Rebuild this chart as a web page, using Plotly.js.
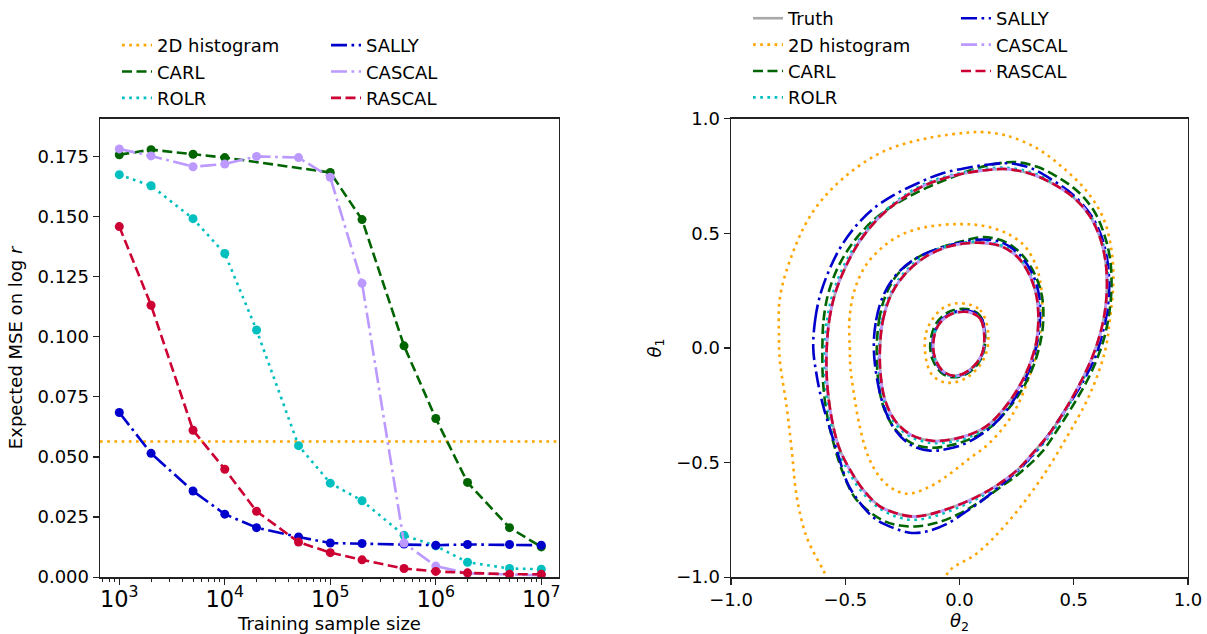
<!DOCTYPE html>
<html><head><meta charset="utf-8">
<script src="https://cdn.plot.ly/plotly-3.0.1.min.js"></script>
<style>html,body{margin:0;padding:0;background:#fff}#chart{width:1207px;height:634px}</style>
</head><body><div id="chart"></div>
<script>
// ---------- Left panel data ----------
const SIZES = [1e3, 2e3, 5e3, 1e4, 2e4, 5e4, 1e5, 2e5, 5e5, 1e6, 2e6, 5e6, 1e7];
const CARL_SIZES = [1e3, 2e3, 5e3, 1e4, 1e5, 2e5, 5e5, 1e6, 2e6, 5e6, 1e7];
const CARL_MSE   = [0.1757, 0.1778, 0.1759, 0.1745, 0.1683, 0.1487, 0.0962, 0.0660, 0.0394, 0.0206, 0.0126];
const ROLR_MSE   = [0.1674, 0.1628, 0.1491, 0.1346, 0.1028, 0.0547, 0.0391, 0.0318, 0.0174, 0.0130, 0.0062, 0.0036, 0.0033];
const SALLY_MSE  = [0.0685, 0.0515, 0.0358, 0.0262, 0.0206, 0.0167, 0.0142, 0.0140, 0.0138, 0.0133, 0.0136, 0.0136, 0.0133];
const CASCAL_MSE = [0.1781, 0.1752, 0.1707, 0.1718, 0.1750, 0.1745, 0.1663, 0.1222, 0.0142, 0.0046, 0.0016, 0.0010, 0.0008];
const RASCAL_MSE = [0.1458, 0.1131, 0.0611, 0.0449, 0.0274, 0.0146, 0.0102, 0.0072, 0.0036, 0.0024, 0.0018, 0.0012, 0.0012];
const HIST_MSE = 0.0564;

// ---------- Right panel data: contours as [theta2, theta1] ----------
const TRUTH_OUTER = [[-0.581,0.000],[-0.570,0.120],[-0.545,0.235],[-0.500,0.350],[-0.440,0.460],[-0.360,0.560],[-0.260,0.645],[-0.150,0.710],[-0.030,0.750],[0.090,0.772],[0.200,0.780],[0.310,0.760],[0.410,0.715],[0.500,0.655],[0.570,0.575],[0.615,0.480],[0.640,0.370],[0.645,0.260],[0.635,0.150],[0.615,0.060],[0.585,-0.030],[0.540,-0.130],[0.480,-0.240],[0.400,-0.365],[0.320,-0.460],[0.250,-0.535],[0.170,-0.595],[0.100,-0.637],[0.020,-0.675],[-0.060,-0.705],[-0.140,-0.728],[-0.210,-0.735],[-0.280,-0.720],[-0.350,-0.690],[-0.420,-0.620],[-0.480,-0.530],[-0.525,-0.440],[-0.555,-0.330],[-0.575,-0.200],[-0.582,-0.100]];
const TRUTH_MID = [[-0.348,0.000],[-0.335,0.120],[-0.300,0.230],[-0.240,0.320],[-0.160,0.390],[-0.070,0.435],[0.020,0.455],[0.104,0.458],[0.190,0.440],[0.260,0.390],[0.310,0.310],[0.338,0.220],[0.345,0.120],[0.335,0.020],[0.300,-0.090],[0.250,-0.187],[0.190,-0.270],[0.120,-0.340],[0.040,-0.380],[-0.040,-0.400],[-0.120,-0.405],[-0.210,-0.380],[-0.280,-0.320],[-0.325,-0.230],[-0.345,-0.120]];
const TRUTH_INNER = [[0.046,0.155],[0.090,0.128],[0.108,0.060],[0.097,-0.030],[0.045,-0.095],[-0.020,-0.122],[-0.070,-0.103],[-0.105,-0.050],[-0.115,0.020],[-0.092,0.100],[-0.035,0.148]];

const HIST_OUTER = [[-0.560,-1.040],[-0.596,-0.970],[-0.669,-0.825],[-0.712,-0.651],[-0.734,-0.448],[-0.756,-0.260],[-0.786,-0.057],[-0.790,0.050],[-0.786,0.219],[-0.727,0.422],[-0.640,0.596],[-0.508,0.741],[-0.333,0.857],[-0.144,0.914],[0.060,0.941],[0.104,0.941],[0.206,0.926],[0.338,0.871],[0.455,0.784],[0.557,0.683],[0.629,0.567],[0.666,0.422],[0.673,0.277],[0.659,0.132],[0.637,-0.013],[0.571,-0.201],[0.469,-0.390],[0.352,-0.578],[0.206,-0.767],[0.075,-0.897],[-0.042,-0.970],[-0.080,-1.040]];
const HIST_MID = [[-0.480,0.000],[-0.482,0.120],[-0.460,0.250],[-0.410,0.360],[-0.330,0.445],[-0.240,0.500],[-0.130,0.530],[0.000,0.540],[0.100,0.533],[0.200,0.503],[0.280,0.450],[0.330,0.370],[0.355,0.280],[0.362,0.180],[0.355,0.080],[0.335,-0.030],[0.300,-0.140],[0.250,-0.259],[0.190,-0.350],[0.120,-0.425],[0.040,-0.485],[-0.040,-0.548],[-0.130,-0.605],[-0.230,-0.636],[-0.320,-0.595],[-0.390,-0.495],[-0.435,-0.350],[-0.465,-0.180],[-0.478,-0.080]];
const HIST_INNER = [[0.000,0.195],[0.090,0.165],[0.126,0.060],[0.108,-0.045],[0.035,-0.128],[-0.056,-0.152],[-0.122,-0.115],[-0.152,0.000],[-0.138,0.090],[-0.075,0.172]];

const CARL_OUTER = [[-0.600,0.000],[-0.595,0.120],[-0.575,0.235],[-0.535,0.345],[-0.480,0.440],[-0.410,0.525],[-0.330,0.595],[-0.240,0.650],[-0.140,0.700],[-0.030,0.745],[0.080,0.785],[0.170,0.805],[0.250,0.810],[0.340,0.790],[0.430,0.745],[0.520,0.680],[0.590,0.595],[0.635,0.490],[0.660,0.380],[0.665,0.260],[0.655,0.150],[0.635,0.050],[0.605,-0.040],[0.560,-0.140],[0.500,-0.245],[0.430,-0.355],[0.360,-0.455],[0.270,-0.540],[0.180,-0.607],[0.090,-0.670],[0.000,-0.723],[-0.090,-0.760],[-0.180,-0.778],[-0.260,-0.775],[-0.330,-0.755],[-0.400,-0.710],[-0.460,-0.650],[-0.510,-0.545],[-0.550,-0.420],[-0.580,-0.290],[-0.597,-0.150]];
const CARL_MID = [[-0.362,0.000],[-0.352,0.120],[-0.325,0.225],[-0.272,0.320],[-0.190,0.390],[-0.090,0.435],[0.010,0.465],[0.104,0.483],[0.200,0.462],[0.275,0.405],[0.330,0.320],[0.360,0.230],[0.367,0.130],[0.355,0.030],[0.325,-0.075],[0.275,-0.180],[0.210,-0.270],[0.130,-0.350],[0.040,-0.400],[-0.040,-0.425],[-0.130,-0.435],[-0.210,-0.415],[-0.285,-0.350],[-0.335,-0.250],[-0.357,-0.130]];
const CARL_INNER = [[0.040,0.168],[0.090,0.140],[0.112,0.060],[0.100,-0.035],[0.045,-0.105],[-0.025,-0.128],[-0.080,-0.108],[-0.118,-0.050],[-0.128,0.020],[-0.100,0.110],[-0.040,0.160]];

const ROLR_OUTER = [[-0.590,0.000],[-0.580,0.120],[-0.555,0.235],[-0.510,0.350],[-0.448,0.460],[-0.367,0.560],[-0.265,0.648],[-0.153,0.715],[-0.030,0.755],[0.090,0.778],[0.200,0.786],[0.310,0.767],[0.410,0.720],[0.500,0.660],[0.572,0.578],[0.620,0.482],[0.645,0.370],[0.650,0.260],[0.640,0.150],[0.620,0.060],[0.590,-0.030],[0.545,-0.130],[0.485,-0.240],[0.405,-0.370],[0.325,-0.465],[0.250,-0.542],[0.170,-0.603],[0.100,-0.645],[0.020,-0.685],[-0.060,-0.718],[-0.140,-0.742],[-0.210,-0.750],[-0.280,-0.735],[-0.350,-0.700],[-0.425,-0.630],[-0.485,-0.540],[-0.530,-0.450],[-0.562,-0.335],[-0.582,-0.200],[-0.590,-0.100]];
const ROLR_MID = [[-0.352,0.000],[-0.340,0.120],[-0.305,0.232],[-0.245,0.325],[-0.165,0.395],[-0.072,0.440],[0.020,0.460],[0.104,0.463],[0.192,0.445],[0.263,0.395],[0.314,0.313],[0.343,0.222],[0.350,0.120],[0.340,0.020],[0.305,-0.090],[0.255,-0.190],[0.193,-0.275],[0.122,-0.347],[0.040,-0.390],[-0.040,-0.410],[-0.120,-0.415],[-0.210,-0.390],[-0.282,-0.330],[-0.330,-0.235],[-0.350,-0.120]];
const ROLR_INNER = [[0.046,0.158],[0.092,0.130],[0.110,0.060],[0.099,-0.032],[0.046,-0.098],[-0.020,-0.125],[-0.073,-0.105],[-0.108,-0.050],[-0.119,0.020],[-0.094,0.102],[-0.036,0.150]];

const SALLY_OUTER = [[-0.640,0.000],[-0.632,0.120],[-0.610,0.230],[-0.570,0.340],[-0.520,0.440],[-0.455,0.530],[-0.380,0.605],[-0.290,0.665],[-0.190,0.715],[-0.080,0.760],[0.030,0.785],[0.130,0.800],[0.220,0.805],[0.310,0.785],[0.410,0.730],[0.500,0.665],[0.575,0.580],[0.622,0.485],[0.648,0.375],[0.655,0.260],[0.645,0.150],[0.625,0.060],[0.598,-0.030],[0.550,-0.130],[0.490,-0.230],[0.420,-0.335],[0.340,-0.445],[0.260,-0.530],[0.180,-0.600],[0.100,-0.665],[0.020,-0.720],[-0.060,-0.770],[-0.140,-0.800],[-0.210,-0.807],[-0.290,-0.785],[-0.370,-0.745],[-0.440,-0.670],[-0.490,-0.590],[-0.530,-0.470],[-0.565,-0.360],[-0.600,-0.240],[-0.625,-0.120]];
const SALLY_MID = [[-0.375,0.000],[-0.365,0.120],[-0.335,0.225],[-0.280,0.315],[-0.200,0.385],[-0.100,0.430],[0.000,0.458],[0.100,0.473],[0.190,0.458],[0.265,0.405],[0.318,0.325],[0.347,0.235],[0.353,0.140],[0.343,0.040],[0.315,-0.070],[0.265,-0.180],[0.200,-0.280],[0.120,-0.360],[0.030,-0.415],[-0.050,-0.440],[-0.130,-0.448],[-0.210,-0.425],[-0.280,-0.360],[-0.330,-0.260],[-0.360,-0.140]];
const SALLY_INNER = [[0.050,0.160],[0.095,0.130],[0.110,0.060],[0.098,-0.030],[0.045,-0.098],[-0.020,-0.124],[-0.072,-0.105],[-0.108,-0.050],[-0.118,0.020],[-0.094,0.102],[-0.035,0.152]];

const CASCAL_OUTER = [[-0.582,0.000],[-0.571,0.120],[-0.546,0.235],[-0.501,0.350],[-0.441,0.461],[-0.361,0.561],[-0.260,0.646],[-0.150,0.711],[-0.030,0.751],[0.090,0.773],[0.200,0.781],[0.310,0.761],[0.410,0.716],[0.500,0.656],[0.571,0.576],[0.616,0.480],[0.641,0.370],[0.646,0.260],[0.636,0.150],[0.616,0.060],[0.586,-0.030],[0.541,-0.130],[0.481,-0.241],[0.401,-0.366],[0.321,-0.461],[0.251,-0.536],[0.170,-0.596],[0.100,-0.638],[0.020,-0.676],[-0.060,-0.706],[-0.140,-0.729],[-0.210,-0.736],[-0.280,-0.721],[-0.351,-0.691],[-0.421,-0.621],[-0.481,-0.531],[-0.526,-0.441],[-0.556,-0.331],[-0.576,-0.200],[-0.583,-0.100]];
const CASCAL_MID = [[-0.349,0.000],[-0.336,0.120],[-0.301,0.230],[-0.241,0.321],[-0.160,0.391],[-0.070,0.436],[0.020,0.456],[0.104,0.459],[0.190,0.441],[0.261,0.391],[0.311,0.311],[0.339,0.220],[0.346,0.120],[0.336,0.020],[0.301,-0.090],[0.251,-0.188],[0.190,-0.271],[0.120,-0.341],[0.040,-0.381],[-0.040,-0.401],[-0.120,-0.406],[-0.210,-0.381],[-0.281,-0.321],[-0.326,-0.230],[-0.346,-0.120]];
const CASCAL_INNER = [[0.046,0.156],[0.090,0.128],[0.109,0.060],[0.097,-0.030],[0.045,-0.096],[-0.020,-0.123],[-0.070,-0.104],[-0.106,-0.050],[-0.116,0.020],[-0.092,0.100],[-0.035,0.149]];

const RASCAL_OUTER = [[-0.581,0.000],[-0.570,0.120],[-0.545,0.235],[-0.500,0.350],[-0.440,0.460],[-0.360,0.560],[-0.260,0.645],[-0.150,0.710],[-0.030,0.750],[0.090,0.772],[0.200,0.780],[0.310,0.760],[0.410,0.715],[0.500,0.655],[0.570,0.575],[0.615,0.480],[0.640,0.370],[0.645,0.260],[0.635,0.150],[0.615,0.060],[0.585,-0.030],[0.540,-0.130],[0.480,-0.240],[0.400,-0.365],[0.320,-0.460],[0.250,-0.535],[0.170,-0.595],[0.100,-0.637],[0.020,-0.675],[-0.060,-0.705],[-0.140,-0.728],[-0.210,-0.735],[-0.280,-0.720],[-0.350,-0.690],[-0.420,-0.620],[-0.480,-0.530],[-0.525,-0.440],[-0.555,-0.330],[-0.575,-0.200],[-0.582,-0.100]];
const RASCAL_MID = [[-0.348,0.000],[-0.335,0.120],[-0.300,0.230],[-0.240,0.320],[-0.160,0.390],[-0.070,0.435],[0.020,0.455],[0.104,0.458],[0.190,0.440],[0.260,0.390],[0.310,0.310],[0.338,0.220],[0.345,0.120],[0.335,0.020],[0.300,-0.090],[0.250,-0.187],[0.190,-0.270],[0.120,-0.340],[0.040,-0.380],[-0.040,-0.400],[-0.120,-0.405],[-0.210,-0.380],[-0.280,-0.320],[-0.325,-0.230],[-0.345,-0.120]];
const RASCAL_INNER = [[0.046,0.155],[0.090,0.128],[0.108,0.060],[0.097,-0.030],[0.045,-0.095],[-0.020,-0.122],[-0.070,-0.103],[-0.105,-0.050],[-0.115,0.020],[-0.092,0.100],[-0.035,0.148]];

// ---------- Styles ----------
const COL = {truth:'#a9a9a9', hist:'#ffa500', carl:'#006400', rolr:'#00bfbf', sally:'#0000cd', cascal:'#bb99ff', rascal:'#cc0033'};
const DASH = {dash:'10px,4.5px', dot:'2.7px,4.5px', dashdot:'16px,4.5px,2.7px,4.5px', solid:'solid'};
const LW = 2.6;
const FONT = 'DejaVu Sans, Liberation Sans, sans-serif';
const W = 1207, H = 634;
const px = p => p / W, py = p => 1 - p / H;

function contourXY(levels, closeIt) {
  const x = [], y = [];
  levels.forEach((lv, i) => {
    if (i) { x.push(null); y.push(null); }
    lv.forEach(p => { x.push(p[0]); y.push(p[1]); });
    if (closeIt[i]) { x.push(lv[0][0]); y.push(lv[0][1]); }
  });
  return {x, y};
}

const LOGRANGE = [2.817, 7.168];
const traces = [];
// Left panel
traces.push({x:[Math.pow(10,LOGRANGE[0]), Math.pow(10,LOGRANGE[1])], y:[HIST_MSE, HIST_MSE], mode:'lines', name:'2D histogram',
  line:{color:COL.hist, width:LW, dash:DASH.dot}, xaxis:'x', yaxis:'y', legend:'legend'});
function addSeries(name, xs, ys, color, dash, leg) {
  traces.push({x:xs, y:ys, mode:'lines', name:name, line:{color:color, width:LW, dash:dash}, xaxis:'x', yaxis:'y', legend:leg});
  traces.push({x:xs, y:ys, mode:'markers', name:name, showlegend:false, marker:{size:9, color:color}, xaxis:'x', yaxis:'y'});
}
addSeries('CARL', CARL_SIZES, CARL_MSE, COL.carl, DASH.dash, 'legend');
addSeries('ROLR', SIZES, ROLR_MSE, COL.rolr, DASH.dot, 'legend');
addSeries('SALLY', SIZES, SALLY_MSE, COL.sally, DASH.dashdot, 'legend2');
addSeries('CASCAL', SIZES, CASCAL_MSE, COL.cascal, DASH.dashdot, 'legend2');
addSeries('RASCAL', SIZES, RASCAL_MSE, COL.rascal, DASH.dash, 'legend2');

// Right panel
const rightSeries = [
  ['Truth', [TRUTH_OUTER, TRUTH_MID, TRUTH_INNER], [true,true,true], COL.truth, DASH.solid, 'legend3'],
  ['2D histogram', [HIST_OUTER, HIST_MID, HIST_INNER], [false,true,true], COL.hist, DASH.dot, 'legend3'],
  ['CARL', [CARL_OUTER, CARL_MID, CARL_INNER], [true,true,true], COL.carl, DASH.dash, 'legend3'],
  ['ROLR', [ROLR_OUTER, ROLR_MID, ROLR_INNER], [true,true,true], COL.rolr, DASH.dot, 'legend3'],
  ['SALLY', [SALLY_OUTER, SALLY_MID, SALLY_INNER], [true,true,true], COL.sally, DASH.dashdot, 'legend4'],
  ['CASCAL', [CASCAL_OUTER, CASCAL_MID, CASCAL_INNER], [true,true,true], COL.cascal, DASH.dashdot, 'legend4'],
  ['RASCAL', [RASCAL_OUTER, RASCAL_MID, RASCAL_INNER], [true,true,true], COL.rascal, DASH.dash, 'legend4']
];
rightSeries.forEach(s => {
  const xy = contourXY(s[1], s[2]);
  traces.push({x:xy.x, y:xy.y, mode:'lines', name:s[0], connectgaps:false,
    line:{color:s[3], width:LW, dash:s[4], shape:'spline', smoothing:1},
    xaxis:'x2', yaxis:'y2', legend:s[5]});
});

const axBase = {showline:true, mirror:true, linecolor:'#222', linewidth:1.4, ticks:'outside', ticklen:6, tickwidth:1.3,
  tickcolor:'#222', showgrid:false, zeroline:false, tickfont:{family:FONT, size:18, color:'#000'}, automargin:false};
const legBase = {bgcolor:'rgba(0,0,0,0)', borderwidth:0, font:{family:FONT, size:18, color:'#000'}, xanchor:'left', yanchor:'top', tracegroupgap:0};

const layout = {
  width:W, height:H, margin:{l:0, r:0, t:0, b:0}, paper_bgcolor:'#fff', plot_bgcolor:'#fff',
  font:{family:FONT, size:18, color:'#000'},
  xaxis:Object.assign({}, axBase, {domain:[px(100), px(559)], type:'log', range:LOGRANGE, dtick:1, exponentformat:'power', showexponent:'all',
    ticklabelstandoff:-4,
    minor:{dtick:'D1', ticks:'outside', ticklen:3.6, tickwidth:1, tickcolor:'#222'},
    title:{text:'Training sample size', font:{family:FONT, size:18}, standoff:10}, anchor:'y'}),
  yaxis:Object.assign({}, axBase, {domain:[py(577), py(117)], range:[0, 0.1907], dtick:0.025, tick0:0, tickformat:'.3f',
    title:{text:'Expected MSE on log <i>r</i>', font:{family:FONT, size:18}, standoff:10}, anchor:'x'}),
  xaxis2:Object.assign({}, axBase, {domain:[px(731), px(1188)], range:[-1, 1], dtick:0.5, tick0:0, tickformat:'.1f',
    title:{text:'<i>θ</i><sub>2</sub>', font:{family:FONT, size:18}, standoff:6}, anchor:'y2'}),
  yaxis2:Object.assign({}, axBase, {domain:[py(577), py(117)], range:[-1, 1], dtick:0.5, tick0:0, tickformat:'.1f',
    title:{text:'<i>θ</i><sub>1</sub>', font:{family:FONT, size:18}, standoff:10}, anchor:'x2'}),
  legend:Object.assign({}, legBase, {x:px(117), y:py(25)}),
  legend2:Object.assign({}, legBase, {x:px(326), y:py(25)}),
  legend3:Object.assign({}, legBase, {x:px(748), y:py(-2)}),
  legend4:Object.assign({}, legBase, {x:px(956), y:py(-2)}),
  showlegend:true
};

Plotly.newPlot('chart', traces, layout, {displayModeBar:false, staticPlot:true});
</script></body></html>
